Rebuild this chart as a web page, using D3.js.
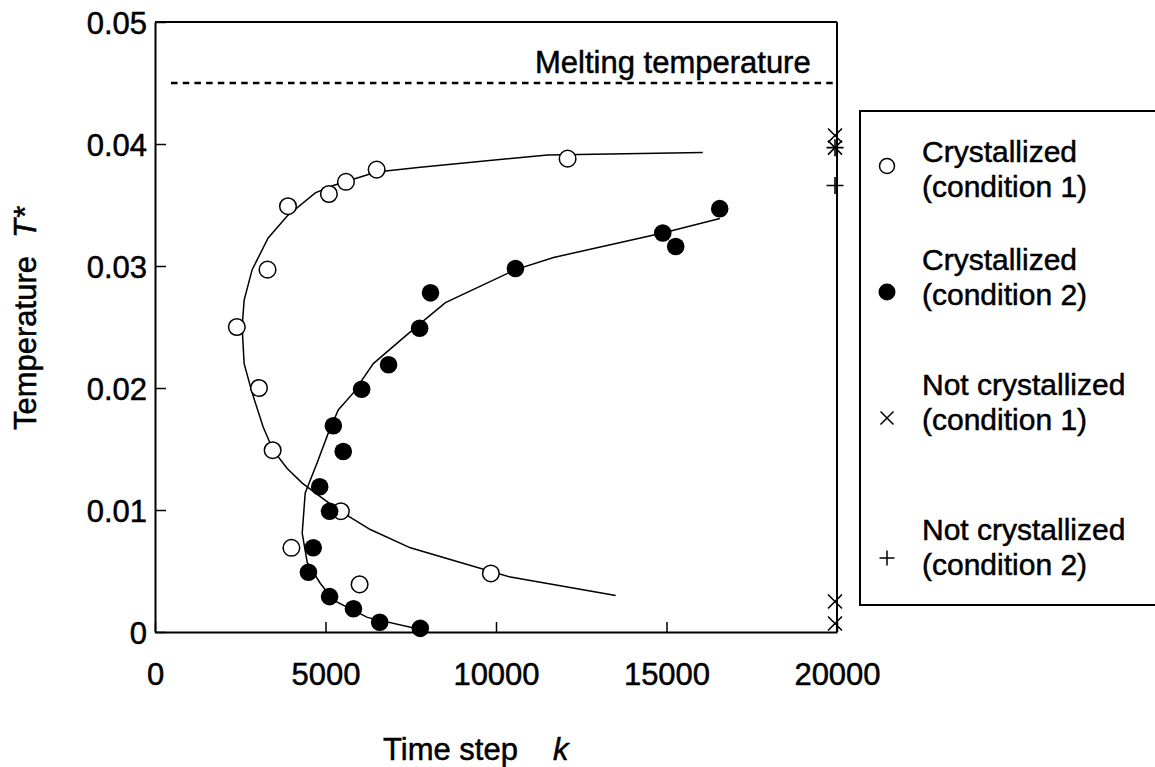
<!DOCTYPE html>
<html><head><meta charset="utf-8">
<script src="https://cdn.jsdelivr.net/npm/d3@7"></script>
<style>
body{margin:0;background:#fff}
svg{display:block}
text{font-family:"Liberation Sans",Arial,sans-serif;fill:#000;stroke:#000;stroke-width:0.5px}
</style>
</head><body>
<svg id="c" width="1155" height="767"></svg>
<script>
// ---- data ----
const xTicks = [0, 5000, 10000, 15000, 20000];
const yTicks = [0, 0.01, 0.02, 0.03, 0.04, 0.05];
const meltingT = 0.045;

// Crystallized (condition 1) - open circles
const cryst1K = [2400, 3050, 3300, 3900, 5100, 5600, 6500, 12100, 3450, 5450, 4000, 6000, 9850];
const cryst1T = [0.025, 0.020, 0.0297, 0.0349, 0.0359, 0.0369, 0.0379, 0.0388, 0.0149, 0.0099, 0.0069, 0.0039, 0.0048];

// Crystallized (condition 2) - filled circles
const cryst2K = [7760, 8080, 10570, 14890, 15270, 16560, 6850, 6060, 5230, 5520, 4830, 5120, 4640, 4500, 5120, 5820, 6590, 7780];
const cryst2T = [0.0249, 0.0278, 0.0298, 0.0327, 0.0316, 0.0347, 0.0219, 0.0199, 0.0169, 0.0148, 0.0119, 0.0099, 0.0069, 0.0049, 0.0029, 0.0019, 0.0008, 0.0003];

// Not crystallized (condition 1) - x marks, at k = 20000
const notCryst1K = [20000, 20000, 20000, 20000];
const notCryst1T = [0.0407, 0.0397, 0.0025, 0.0007];

// Not crystallized (condition 2) - plus marks, at k = 20000
const notCryst2K = [20000, 20000];
const notCryst2T = [0.0397, 0.0366];

// Fitted curve through condition 1
const curve1K = [16065, 11512, 7783, 6490, 5228, 4699, 3877, 3319, 2849, 2614, 2555, 2614, 2849, 3172, 3465, 3877, 4317, 4846, 5433, 6314, 7489, 8957, 10426, 13510];
const curve1T = [0.0393, 0.0391, 0.0381, 0.0377, 0.0366, 0.0360, 0.0341, 0.0323, 0.0297, 0.0272, 0.0250, 0.0220, 0.0196, 0.0168, 0.0149, 0.0134, 0.0122, 0.0111, 0.0099, 0.0084, 0.0069, 0.0057, 0.0045, 0.0030];

// Fitted curve through condition 2
const curve2K = [16564, 14890, 11689, 10573, 8517, 7783, 7195, 6402, 5815, 5374, 5081, 4758, 4405, 4317, 4464, 4846, 5228, 6226, 7783];
const curve2T = [0.0339, 0.0327, 0.0307, 0.0297, 0.0270, 0.0253, 0.0239, 0.0220, 0.0196, 0.0182, 0.0163, 0.0139, 0.0114, 0.0081, 0.0057, 0.0040, 0.0026, 0.0012, 0.0002];

const legendLabels = [
  ["Crystallized", "(condition 1)"],
  ["Crystallized", "(condition 2)"],
  ["Not crystallized", "(condition 1)"],
  ["Not crystallized", "(condition 2)"]
];
const legendMarkers = ["open", "filled", "cross", "plus"];

// ---- drawing ----
const svg = d3.select("#c");
const FS = 31;
const x = d3.scaleLinear().domain([0, 20000]).range([155, 837]);
const y = d3.scaleLinear().domain([0, 0.05]).range([632, 22]);

const zip = (a, b) => a.map((v, i) => [v, b[i]]);

// frame (top & right)
svg.append("line").attr("x1", x(0)).attr("x2", x(20000)).attr("y1", y(0.05)).attr("y2", y(0.05))
  .attr("stroke", "#000").attr("stroke-width", 2);
svg.append("line").attr("x1", x(20000)).attr("x2", x(20000)).attr("y1", y(0.05)).attr("y2", y(0))
  .attr("stroke", "#000").attr("stroke-width", 2);

// axes
const yAxis = d3.axisLeft(y).tickValues(yTicks).tickSizeInner(-11).tickSizeOuter(0).tickPadding(8)
  .tickFormat(d => d === 0 ? "0" : d3.format(".2f")(d));
const gy = svg.append("g").attr("transform", `translate(${x(0)},0)`).call(yAxis);
const xAxis = d3.axisBottom(x).tickValues(xTicks).tickSizeInner(-10).tickSizeOuter(0).tickPadding(31)
  .tickFormat(d3.format("d"));
const gx = svg.append("g").attr("transform", `translate(0,${y(0)})`).call(xAxis);
[gx, gy].forEach(g => {
  g.attr("font-size", null).attr("font-family", null);
  g.select(".domain").attr("stroke-width", 2);
  g.selectAll(".tick line").attr("stroke-width", 1.5);
  g.selectAll(".tick text").style("font-size", FS + "px").attr("fill", "#000");
});
gy.selectAll(".tick text").attr("dy", "0.38em");

// melting temperature
svg.append("line").attr("x1", x(470)).attr("x2", x(20000)).attr("y1", y(meltingT)).attr("y2", y(meltingT))
  .attr("stroke", "#000").attr("stroke-width", 2.4).attr("stroke-dasharray", "6.5,5.2");
svg.append("text").attr("x", 535).attr("y", 73).style("font-size", FS + "px").text("Melting temperature");

// curves
const line = d3.line().x(d => x(d[0])).y(d => y(d[1])).curve(d3.curveLinear);
svg.append("path").attr("d", line(zip(curve1K, curve1T))).attr("fill", "none").attr("stroke", "#000").attr("stroke-width", 1.5);
svg.append("path").attr("d", line(zip(curve2K, curve2T))).attr("fill", "none").attr("stroke", "#000").attr("stroke-width", 1.5);

// markers
function crossPath(s) { return `M${-s},${-s}L${s},${s}M${-s},${s}L${s},${-s}`; }
function plusPath(s) { return `M${-s},0L${s},0M0,${-s}L0,${s}`; }

svg.append("g").selectAll("circle").data(zip(cryst1K, cryst1T)).join("circle")
  .attr("cx", d => x(d[0])).attr("cy", d => y(d[1])).attr("r", 8.3)
  .attr("fill", "#fff").attr("stroke", "#000").attr("stroke-width", 1.5);
svg.append("g").selectAll("circle").data(zip(cryst2K, cryst2T)).join("circle")
  .attr("cx", d => x(d[0])).attr("cy", d => y(d[1])).attr("r", 8.8)
  .attr("fill", "#000");
svg.append("g").selectAll("path").data(zip(notCryst1K, notCryst1T)).join("path")
  .attr("transform", d => `translate(${x(d[0]) - 2},${y(d[1])})`).attr("d", crossPath(7))
  .attr("stroke", "#000").attr("stroke-width", 1.6).attr("fill", "none");
svg.append("g").selectAll("path").data(zip(notCryst2K, notCryst2T)).join("path")
  .attr("transform", d => `translate(${x(d[0]) - 2},${y(d[1])})`).attr("d", plusPath(8.5))
  .attr("stroke", "#000").attr("stroke-width", 1.6).attr("fill", "none");

// axis titles
const yt = svg.append("text").attr("transform", "translate(36,430) rotate(-90)").style("font-size", FS + "px");
yt.append("tspan").text("Temperature");
yt.append("tspan").attr("dx", 18).style("font-style", "italic").text("T*");
const xt = svg.append("text").attr("x", 383).attr("y", 760).style("font-size", FS + "px");
xt.append("tspan").text("Time step");
xt.append("tspan").attr("dx", 35).style("font-style", "italic").text("k");

// legend
svg.append("rect").attr("x", 860).attr("y", 111).attr("width", 400).attr("height", 494)
  .attr("fill", "none").attr("stroke", "#000").attr("stroke-width", 2);
const legLine1 = [162, 270, 395, 540];
const legMarkY = [166, 292, 418, 558];
legendLabels.forEach((lab, i) => {
  const t = svg.append("text").attr("x", 922).attr("y", legLine1[i]).style("font-size", (FS - 1) + "px");
  t.append("tspan").attr("x", 922).text(lab[0]);
  t.append("tspan").attr("x", 922).attr("dy", 35).text(lab[1]);
  const m = legendMarkers[i], mx = 887, my = legMarkY[i];
  if (m === "open") svg.append("circle").attr("cx", mx).attr("cy", my).attr("r", 7.5).attr("fill", "#fff").attr("stroke", "#000").attr("stroke-width", 1.5);
  else if (m === "filled") svg.append("circle").attr("cx", mx).attr("cy", my).attr("r", 8.5).attr("fill", "#000");
  else if (m === "cross") svg.append("path").attr("transform", `translate(${mx},${my})`).attr("d", crossPath(6.5)).attr("stroke", "#000").attr("stroke-width", 1.5).attr("fill", "none");
  else svg.append("path").attr("transform", `translate(${mx},${my})`).attr("d", plusPath(7.5)).attr("stroke", "#000").attr("stroke-width", 1.5).attr("fill", "none");
});
</script>
</body></html>
